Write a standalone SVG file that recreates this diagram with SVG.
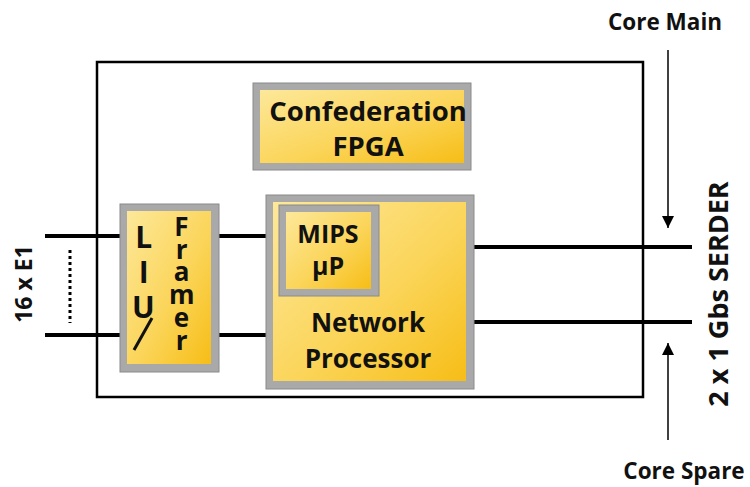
<svg xmlns="http://www.w3.org/2000/svg" width="750" height="487" viewBox="0 0 750 487">
<style>
.t{font-family:"Open Sans","Noto Sans","Liberation Sans",sans-serif;font-weight:bold;fill:#111;text-anchor:middle}
.v{writing-mode:vertical-rl;text-orientation:upright;text-anchor:start}
.frame{fill:#a9a9a9;stroke:#8a8a8a;stroke-width:1}
.fill{fill:url(#yg)}
.wire{stroke:#000;stroke-width:4;fill:none}
.arr{stroke:#000;stroke-width:1.5;fill:none}
</style>
<defs>
<linearGradient id="yg" x1="0" y1="0" x2="1" y2="1">
<stop offset="0" stop-color="#fde89a"/>
<stop offset="0.55" stop-color="#fbd55a"/>
<stop offset="1" stop-color="#f6bd16"/>
</linearGradient>
<marker id="ahb" viewBox="0 0 10 10" refX="10" refY="5" markerWidth="12" markerHeight="13" orient="auto" markerUnits="userSpaceOnUse">
<path d="M0,0 L10,5 L0,10 z" fill="#000"/>
</marker>
</defs>
<rect width="750" height="487" fill="#fff"/>
<g id="outer">
<rect x="97" y="62" width="546" height="335" fill="none" stroke="#000" stroke-width="2.5"/>
</g>
<g id="connectors">
<line class="wire" x1="45" y1="236" x2="122" y2="236"/>
<line class="wire" x1="45" y1="335" x2="122" y2="335"/>
<line x1="70" y1="250" x2="70" y2="323" stroke="#000" stroke-width="3" stroke-dasharray="3,3"/>
<line class="wire" x1="218" y1="236" x2="268" y2="236"/>
<line class="wire" x1="218" y1="335" x2="268" y2="335"/>
<line class="wire" x1="472" y1="247" x2="692" y2="247"/>
<line class="wire" x1="472" y1="322" x2="692" y2="322"/>
<line class="arr" x1="668" y1="50" x2="668" y2="228" marker-end="url(#ahb)"/>
<line class="arr" x1="668" y1="440" x2="668" y2="343" marker-end="url(#ahb)"/>
</g>
<g id="fpga">
<rect class="frame" x="253" y="83" width="218" height="87"/>
<rect class="fill" x="260" y="90" width="204" height="73"/>
<text class="t" x="368" y="121" font-size="27.5">Confederation</text>
<text class="t" x="368" y="156" font-size="27.5">FPGA</text>
</g>
<g id="liu">
<rect class="frame" x="120" y="204" width="99" height="168"/>
<rect class="fill" x="127" y="211" width="84" height="153"/>
<text class="t v" x="143" y="216" font-size="30" letter-spacing="-6">LIU</text>
<line x1="134" y1="350" x2="152" y2="318" stroke="#111" stroke-width="3"/>
<text class="t v" x="181" y="208" font-size="26" letter-spacing="-13.3">Framer</text>
</g>
<g id="np">
<rect class="frame" x="266" y="195" width="208" height="194"/>
<rect class="fill" x="273" y="202" width="193" height="179"/>
<text class="t" x="368" y="332" font-size="26">Network</text>
<text class="t" x="368" y="368" font-size="26">Processor</text>
</g>
<g id="mips">
<rect class="frame" x="279" y="205" width="100" height="91"/>
<rect class="fill" x="286" y="212" width="85" height="77"/>
<text class="t" x="328" y="243" font-size="25">MIPS</text>
<text class="t" x="328" y="275" font-size="25">µP</text>
</g>
<g id="labels">
<text class="t" x="665" y="30" font-size="22.5">Core Main</text>
<text class="t" x="684" y="479" font-size="22.5">Core Spare</text>
<text class="t" transform="translate(728,294) rotate(-90)" font-size="27">2 x 1 Gbs SERDER</text>
<text class="t" transform="translate(32,284) rotate(-90)" font-size="23">16 x E1</text>
</g>
</svg>
